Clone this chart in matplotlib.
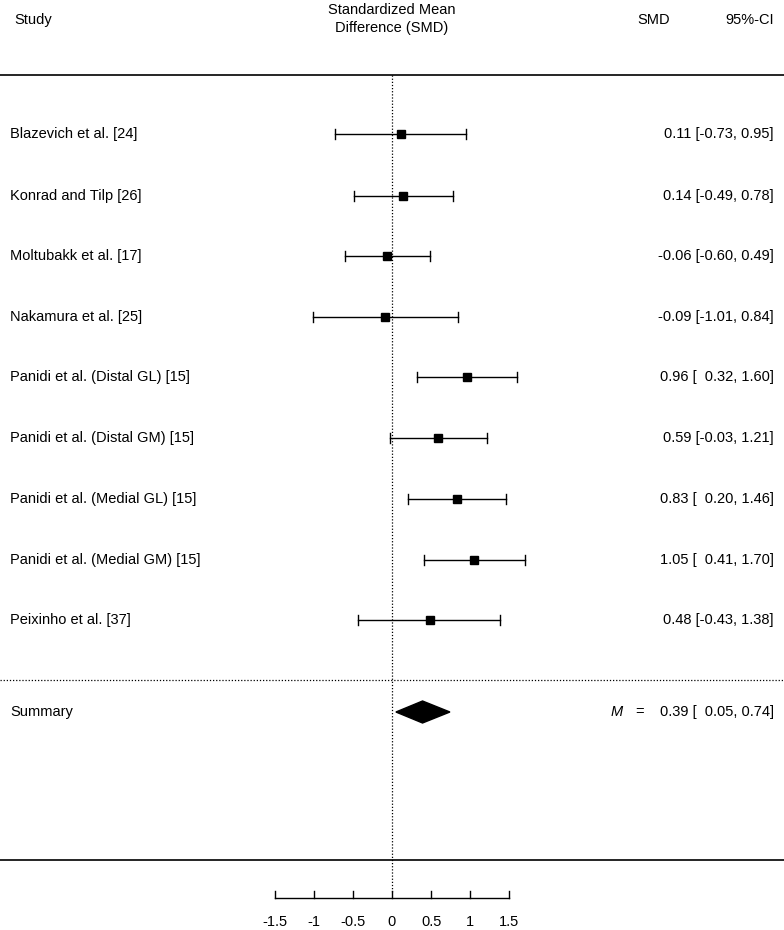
import matplotlib
matplotlib.use('Agg')
import matplotlib.pyplot as plt
import numpy as np

plt.rcParams['font.family'] = ['Liberation Sans', 'DejaVu Sans']

# study data (SMD with 95% CI)
studies = ['Blazevich et al. [24]', 'Konrad and Tilp [26]', 'Moltubakk et al. [17]',
           'Nakamura et al. [25]', 'Panidi et al. (Distal GL) [15]', 'Panidi et al. (Distal GM) [15]',
           'Panidi et al. (Medial GL) [15]', 'Panidi et al. (Medial GM) [15]', 'Peixinho et al. [37]']
smd = [0.11, 0.14, -0.06, -0.09, 0.96, 0.59, 0.83, 1.05, 0.48]
lower = [-0.73, -0.49, -0.60, -1.01, 0.32, -0.03, 0.20, 0.41, -0.43]
upper = [0.95, 0.78, 0.49, 0.84, 1.60, 1.21, 1.46, 1.70, 1.38]
summary = 0.39
summary_ci = [0.05, 0.74]
xticks = [-1.5, -1, -0.5, 0, 0.5, 1, 1.5]

W, H = 784, 930
x0 = 392       # pixel of SMD = 0
scale = 78.3   # pixels per SMD unit
row_y = [134, 196, 256, 317, 377, 438, 499, 560, 620]
sum_y = 712

fig = plt.figure(figsize=(W / 100, H / 100), dpi=100)
ax = fig.add_axes([0, 0, 1, 1])
ax.set_xlim(-x0 / scale, (W - x0) / scale)
ax.set_ylim(H, 0)
ax.axis('off')

fs = 10.5

# text overlay in pixel units
tx = fig.add_axes([0, 0, 1, 1], facecolor='none')
tx.set_xlim(0, W)
tx.set_ylim(H, 0)
tx.axis('off')

# header
tx.text(14, 20, 'Study', fontsize=fs, va='center', ha='left')
tx.text(x0, 19, 'Standardized Mean\nDifference (SMD)', fontsize=fs, va='center', ha='center',
        linespacing=1.35)
tx.text(654, 20, 'SMD', fontsize=fs, va='center', ha='center')
tx.text(774, 20, '95%-CI', fontsize=fs, va='center', ha='right')

# horizontal rules
tx.plot([0, W], [75, 75], color='black', lw=1.2)
tx.plot([0, W], [680, 680], color='black', lw=0.9, ls=(0, (1, 1.5)))
tx.plot([0, W], [860, 860], color='black', lw=1.2)

# zero line
ax.plot([0, 0], [75, 893], color='black', lw=0.9, ls=(0, (1, 1.5)))

# studies
for name, m, lo, hi, y in zip(studies, smd, lower, upper, row_y):
    ax.plot([lo, hi], [y, y], color='black', lw=1)
    ax.plot([lo, lo], [y - 5, y + 5], color='black', lw=1)
    ax.plot([hi, hi], [y - 5, y + 5], color='black', lw=1)
    ax.plot(m, y, marker='s', color='black', markersize=6)
    tx.text(10, y, name, fontsize=fs, va='center', ha='left')
    tx.text(774, y, '%.2f [%s, %s]' % (m, ('%5.2f' % lo).replace(' ', '\u2007') if lo >= 0 else '%.2f' % lo,
                                      '%.2f' % hi),
            fontsize=fs, va='center', ha='right')

# summary diamond
ax.fill([summary_ci[0], summary, summary_ci[1], summary],
        [sum_y, sum_y - 11, sum_y, sum_y + 11], color='black')
tx.text(10, sum_y, 'Summary', fontsize=fs, va='center', ha='left')
tx.text(617, sum_y, 'M', fontsize=fs, va='center', ha='center', style='italic')
tx.text(640, sum_y, '=', fontsize=fs, va='center', ha='center')
tx.text(774, sum_y, '%.2f [\u2007%.2f, %.2f]' % (summary, summary_ci[0], summary_ci[1]),
        fontsize=fs, va='center', ha='right')

# x axis
axis_y = 898
ax.plot([xticks[0], xticks[-1]], [axis_y, axis_y], color='black', lw=1)
for t in xticks:
    ax.plot([t, t], [axis_y, axis_y - 7], color='black', lw=1)
    ax.text(t, 922, '%g' % t, fontsize=fs, va='center', ha='center')

fig.savefig('out.png', dpi=100)
